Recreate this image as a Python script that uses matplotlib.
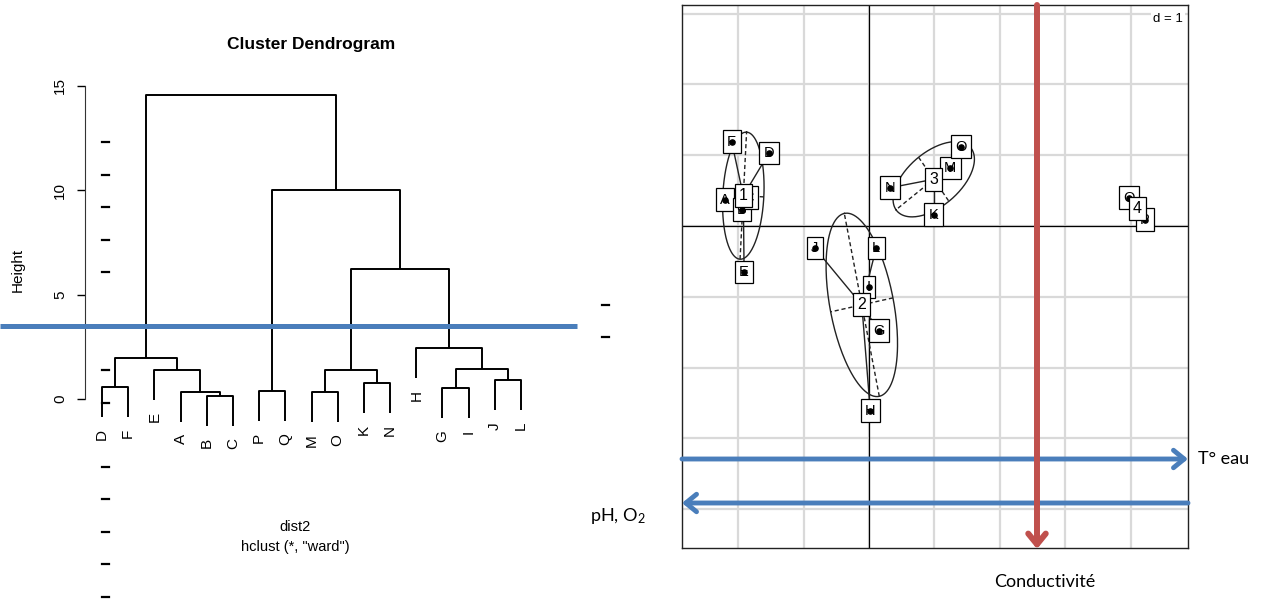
import numpy as np
import matplotlib
matplotlib.use('Agg')
import matplotlib.pyplot as plt

plt.rcParams['mathtext.default'] = 'regular'

W, H = 1275, 601
r_font = 'Liberation Sans'      # R graphics text
o_font = 'Lato'                 # office annotations
blue = '#4a7ebb'
red = '#c0504d'

# ---- dendrogram (hclust, ward) ----
leaves = ['D', 'F', 'E', 'A', 'B', 'C', 'P', 'Q', 'M', 'O', 'K', 'N', 'H', 'G', 'I', 'J', 'L']
# children: leaf name or 1-based index of an earlier merge
merge_left = ['D', 'B', 'A', 'E', 1, 'P', 'M', 'K', 7, 'G', 'J', 10, 'H', 9, 6, 5]
merge_right = ['F', 'C', 2, 3, 4, 'Q', 'O', 'N', 8, 'I', 'L', 11, 12, 13, 14, 15]
merge_height = [0.575, 0.14, 0.335, 1.39, 1.96, 0.38, 0.335, 0.77, 1.39, 0.53, 0.91, 1.44, 2.44, 6.23, 10.0, 14.57]
height_ticks = [0, 5, 10, 15]

# ---- s.class scores (axes 1-2) ----
site_names = ['A', 'B', 'C', 'D', 'E', 'F', 'G', 'H', 'I', 'J', 'K', 'L', 'M', 'N', 'O', 'P', 'Q']
site_x = [-2.20, -1.94, -1.85, -1.53, -1.91, -2.10, 0.15, 0.02, 0.00, -0.83, 0.99, 0.11, 1.24, 0.32, 1.41, 4.22, 3.98]
site_y = [0.37, 0.23, 0.40, 1.03, -0.65, 1.19, -1.48, -2.61, -0.86, -0.31, 0.16, -0.31, 0.82, 0.54, 1.12, 0.09, 0.40]
site_group = [1, 1, 1, 1, 1, 1, 2, 2, 2, 2, 3, 2, 3, 3, 3, 4, 4]


def fx(px):
    return px / W


def fy(py):
    return 1 - py / H


fig = plt.figure(figsize=(W / 100, H / 100), dpi=100)

# ------------------------------------------------------------- dendrogram
x0px, dx = 102, 26.19
y0px, dy = 399, 20.87
ax1 = fig.add_axes([fx(85), fy(445), (560 - 85) / W, (445 - 78) / H])
ax1.set_xlim(1 + (85 - 102) / dx, 1 + (560 - 102) / dx)
ax1.set_ylim((y0px - 445) / dy, (y0px - 78) / dy)

hang = 0.1 * max(merge_height)
leaf_pos = {name: i + 1 for i, name in enumerate(leaves)}
node_x = []


def child_xy(c, h):
    if isinstance(c, str):
        return leaf_pos[c], h - hang
    return node_x[c - 1], merge_height[c - 1]


for a, b, h in zip(merge_left, merge_right, merge_height):
    xa, ya = child_xy(a, h)
    xb, yb = child_xy(b, h)
    ax1.plot([xa, xa, xb, xb], [ya, h, h, yb], color='black', lw=1.4, solid_capstyle='butt')
    node_x.append((xa + xb) / 2)

for name, h in zip(merge_left + merge_right, merge_height + merge_height):
    if isinstance(name, str):
        ax1.text(leaf_pos[name], h - hang - 0.55, name, rotation=90, ha='center', va='top',
                 fontsize=11, family=r_font)

for s in ['top', 'right', 'bottom']:
    ax1.spines[s].set_visible(False)
ax1.spines['left'].set_bounds(0, 15)
ax1.spines['left'].set_color('#333333')
ax1.set_xticks([])
ax1.set_yticks(height_ticks)
ax1.set_yticklabels([str(t) for t in height_ticks], rotation=90, va='center',
                    fontsize=11, family=r_font)
ax1.tick_params(axis='y', length=6, width=1, pad=7)

fig.text(fx(311), fy(44), 'Cluster Dendrogram', ha='center', va='center',
         fontsize=12.5, weight='bold', family=r_font)
fig.text(fx(18), fy(270), 'Height', rotation=90, ha='center', va='center',
         fontsize=11, family=r_font)
fig.text(fx(295), fy(527), 'dist2', ha='center', va='center', fontsize=10.5, family=r_font)
fig.text(fx(295), fy(547), 'hclust (*, "ward")', ha='center', va='center', fontsize=10.5, family=r_font)

# ------------------------------------------------------------- s.class
ax2 = fig.add_axes([fx(682), fy(548), (1188 - 682) / W, (548 - 5) / H])
ax2.set_xlim((682 - 869) / 65.4, (1188 - 869) / 65.4)
ax2.set_ylim((226 - 548) / 70.8, (226 - 5) / 70.8)
ax2.set_xticks(np.arange(-2, 5))
ax2.set_yticks(np.arange(-4, 4))
ax2.tick_params(length=0, labelbottom=False, labelleft=False)
ax2.grid(True, color='#d9d9d9', lw=1.6)
ax2.set_axisbelow(True)
ax2.axhline(0, color='black', lw=0.9, zorder=1)
ax2.axvline(0, color='black', lw=0.9, zorder=1)
for s in ax2.spines.values():
    s.set_color('#222222')
    s.set_linewidth(1)

sx = np.array(site_x)
sy = np.array(site_y)
grp = np.array(site_group)
t = np.linspace(0, 2 * np.pi, 200)
for g in sorted(set(site_group)):
    px, py = sx[grp == g], sy[grp == g]
    cx, cy = px.mean(), py.mean()
    cov = np.cov(np.vstack([px, py]), bias=True)
    vals, vecs = np.linalg.eigh(cov)
    vals = np.clip(vals, 0, None)
    a = 1.5 * np.sqrt(vals[1])
    b = 1.5 * np.sqrt(vals[0])
    v1, v2 = vecs[:, 1], vecs[:, 0]
    ex = cx + a * np.cos(t) * v1[0] + b * np.sin(t) * v2[0]
    ey = cy + a * np.cos(t) * v1[1] + b * np.sin(t) * v2[1]
    ax2.plot(ex, ey, color='#222222', lw=1.0, zorder=2)
    ax2.plot([cx - a * v1[0], cx + a * v1[0]], [cy - a * v1[1], cy + a * v1[1]],
             color='#222222', lw=1.0, ls=(0, (3, 2)), zorder=2)
    ax2.plot([cx - b * v2[0], cx + b * v2[0]], [cy - b * v2[1], cy + b * v2[1]],
             color='#222222', lw=1.0, ls=(0, (3, 2)), zorder=2)
    for xi, yi in zip(px, py):
        ax2.plot([cx, xi], [cy, yi], color='#222222', lw=1.0, zorder=2)
    for xi, yi, name in zip(px, py, np.array(site_names)[grp == g]):
        ax2.text(xi, yi, name, ha='center', va='center', fontsize=10.5, family=r_font, zorder=3,
                 bbox=dict(boxstyle='square,pad=0.3', fc='white', ec='black', lw=0.9))
    ax2.text(cx, cy, str(g), ha='center', va='center', fontsize=11.5, family=r_font, zorder=5,
             bbox=dict(boxstyle='square,pad=0.25', fc='white', ec='black', lw=0.9))
ax2.scatter(sx, sy, s=14, color='black', zorder=4)
ax2.text(0.99, 0.985, 'd = 1', transform=ax2.transAxes, ha='right', va='top', fontsize=9.5,
         family=r_font, zorder=6, bbox=dict(boxstyle='square,pad=0.15', fc='white', ec='none'))

# ------------------------------------------------------------- overlay marks
ov = fig.add_axes([0, 0, 1, 1], zorder=10)
ov.set_xlim(0, W)
ov.set_ylim(H, 0)
ov.axis('off')

ov.plot([0, 577], [326, 326], color=blue, lw=3.6, solid_capstyle='butt')
arrow = dict(arrowstyle='->,head_length=0.55,head_width=0.45', lw=3.5,
             shrinkA=0, shrinkB=0, mutation_scale=14)
ov.annotate('', xy=(1188, 459), xytext=(682, 459), arrowprops=dict(color=blue, **arrow))
ov.annotate('', xy=(682, 503), xytext=(1188, 503), arrowprops=dict(color=blue, **arrow))
ov.annotate('', xy=(1037, 549), xytext=(1037, 5),
            arrowprops=dict(arrowstyle='->,head_length=0.55,head_width=0.45', lw=4.3, color=red,
                            shrinkA=0, shrinkB=0, mutation_scale=14))

ov.text(1198, 459, 'T° eau', ha='left', va='center', fontsize=13, family=o_font)
ov.text(590, 516, 'pH, O$_2$', ha='left', va='center', fontsize=13, family=o_font)
ov.text(1045, 582, 'Conductivité', ha='center', va='center', fontsize=13, family=o_font)

# stray tick marks left in the composition
for yy in [142, 175, 207, 240, 272, 370, 403, 467, 499, 532, 564, 597]:
    ov.plot([102, 109], [yy, yy], color='black', lw=1.6)
for yy in [305, 337]:
    ov.plot([602, 609], [yy, yy], color='black', lw=1.6)

fig.savefig('out.png', dpi=100)
